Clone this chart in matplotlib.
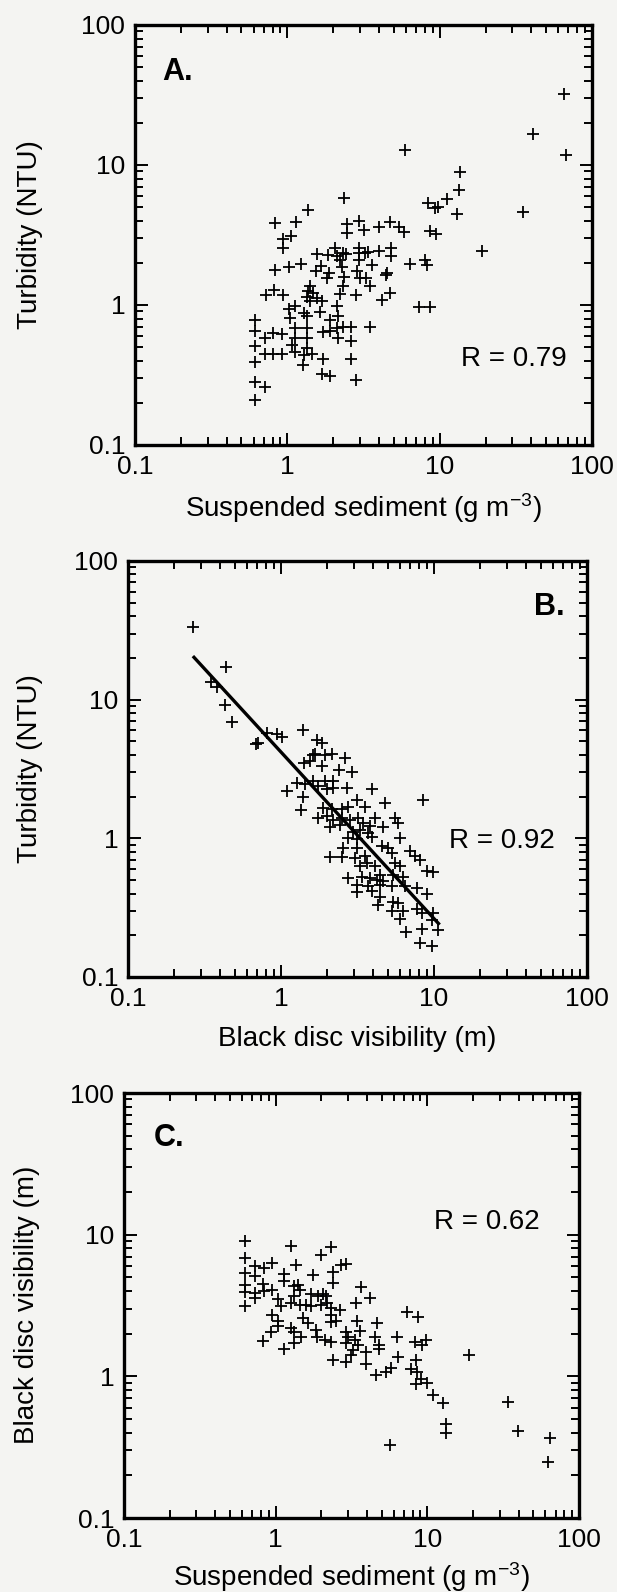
import numpy as np
import matplotlib
matplotlib.use('Agg')
import matplotlib.pyplot as plt
from matplotlib.ticker import LogLocator, FuncFormatter, NullFormatter

plt.rcParams['font.family'] = ['Liberation Sans', 'DejaVu Sans']
plt.rcParams['mathtext.default'] = 'regular'

# ---------------------------------------------------------------
# data
# ---------------------------------------------------------------
# A: suspended sediment (g m-3) vs turbidity (NTU)
sed_a = [2.37, 1.36, 0.83, 1.14, 1.05, 0.93, 0.93, 2.45, 2.45, 3.19, 2.97, 4.02,
         4.72, 5.41, 5.87, 8.43, 9.33, 8.6, 9.5,
         2.06, 2.33, 1.56, 1.86, 2.11, 2.22, 2.43, 2.97, 2.97, 3.24, 2.97, 3.4,
         4.02, 4.80, 4.80, 6.34, 8.02, 8.30, 0.83, 1.03, 1.23,
         1.54, 1.66, 1.89, 1.81, 2.28, 2.35, 2.88, 3.0, 3.29, 3.58, 4.49,
         2.33, 2.22, 2.84, 3.5, 4.69, 4.2, 7.3, 8.6, 0.72, 0.82, 0.93,
         1.41, 1.37, 1.34, 1.48, 1.56, 1.68, 1.41,
         1.03, 1.04, 1.12, 1.28, 1.34, 1.64, 2.11, 2.16, 1.9,
         0.61, 0.61, 0.61, 0.61, 0.61, 0.71, 0.61,
         0.71, 0.81, 0.92, 0.71, 0.81, 0.92,
         1.12, 1.34, 1.71, 1.9, 2.11, 2.33, 2.63, 3.5,
         1.12, 1.07, 1.34, 1.34, 2.14, 2.63, 1.12, 1.28, 1.45, 1.26,
         1.71, 2.63, 1.7, 1.9, 2.82,
         5.94, 13.6, 13.4, 11.1, 13.0, 35, 18.9, 65.8, 41, 67, 9.8, 4.44]
turb_a = [5.85, 4.75, 3.84, 3.92, 3.11, 2.98, 2.54, 3.77, 3.28, 3.41, 3.98, 3.62,
          3.94, 3.61, 3.32, 5.39, 4.96, 3.38, 3.23,
          2.57, 2.36, 2.30, 2.26, 2.23, 2.11, 2.32, 2.57, 2.36, 2.36, 2.11, 2.41,
          2.45, 2.57, 2.23, 1.95, 2.11, 1.92, 1.77, 1.86, 1.97,
          1.74, 1.89, 1.69, 1.56, 1.86, 1.58, 1.76, 1.56, 1.56, 1.92, 1.69,
          1.36, 1.19, 1.17, 1.36, 1.22, 1.08, 0.96, 0.96, 1.17, 1.29, 1.17,
          1.36, 1.25, 1.15, 1.22, 1.12, 1.06, 1.06,
          0.94, 0.81, 0.98, 0.87, 0.83, 0.89, 0.98, 0.84, 0.78,
          0.78, 0.65, 0.51, 0.39, 0.28, 0.26, 0.21,
          0.58, 0.63, 0.62, 0.45, 0.45, 0.45,
          0.68, 0.68, 0.64, 0.65, 0.68, 0.70, 0.70, 0.70,
          0.58, 0.52, 0.58, 0.49, 0.58, 0.55, 0.46, 0.44, 0.45, 0.37,
          0.41, 0.41, 0.32, 0.31, 0.29,
          12.8, 8.86, 6.62, 5.70, 4.50, 4.65, 2.43, 32.3, 16.7, 11.7, 5.0, 1.65]

# B: black disc visibility (m) vs turbidity (NTU)
vis_b = [0.267, 0.44, 0.35, 0.38, 0.43, 0.48, 0.69, 0.71, 0.94, 1.01, 0.81, 1.39,
         1.73, 1.85, 1.61, 1.94,
         1.67, 2.14, 2.62, 1.55, 1.41, 1.85, 2.40, 2.90,
         1.09, 1.27, 1.44, 1.63, 1.75, 1.94, 2.20, 1.99, 2.20, 2.69, 1.40, 1.36,
         3.92, 3.15, 4.78, 8.44, 3.54,
         1.89, 2.14, 2.49, 2.75, 1.99, 1.75, 2.20, 2.49, 2.82, 3.20, 4.11, 3.45,
         3.82, 4.67, 5.56, 5.85, 2.09, 2.43, 2.97, 3.28, 3.72, 2.75, 3.12, 3.92,
         6.0, 2.55, 3.12, 4.55, 5.03, 2.09, 2.49, 3.05, 3.54, 3.63, 3.28, 4.11,
         5.28, 5.56, 6.0, 6.97, 7.52, 8.1, 8.96, 9.9, 4.44, 5.42, 6.31, 2.75,
         3.37, 3.82, 4.22, 4.67, 3.12, 3.72, 4.44, 3.12, 3.92, 5.28, 6.46, 7.71,
         8.96, 4.44, 5.42, 5.85, 4.33, 5.28, 6.31, 7.71, 8.3, 9.9,
         6.6, 8.1, 9.7, 10.7, 8.3, 9.7, 6.0]
turb_b = [33.7, 17.2, 13.3, 12.4, 9.1, 6.9, 4.75, 4.89, 5.61, 5.40, 5.77, 6.0,
          5.1, 4.83, 4.02, 3.96,
          4.09, 4.09, 3.81, 3.6, 3.5, 3.31, 3.1, 3.0,
          2.18, 2.51, 2.48, 2.58, 2.37, 2.58, 2.58, 2.25, 2.31, 2.31, 1.99, 1.61,
          2.28, 1.90, 1.80, 1.88, 1.68,
          1.65, 1.63, 1.63, 1.68, 1.44, 1.40, 1.36, 1.40, 1.36, 1.40, 1.40, 1.29,
          1.22, 1.21, 1.40, 1.29, 1.21, 1.25, 1.12, 1.15, 1.09, 1.0, 0.99, 1.03,
          1.0, 0.85, 0.85, 0.875, 0.85, 0.73, 0.73, 0.72, 0.74, 0.66, 0.63, 0.63,
          0.78, 0.66, 0.63, 0.81, 0.75, 0.70, 0.58, 0.57, 0.54, 0.54, 0.53, 0.52,
          0.53, 0.52, 0.50, 0.49, 0.46, 0.45, 0.46, 0.41, 0.42, 0.45, 0.45, 0.44,
          0.40, 0.38, 0.35, 0.34, 0.33, 0.30, 0.30, 0.31, 0.29, 0.29,
          0.21, 0.176, 0.167, 0.217, 0.223, 0.257, 0.26]
fit_x = [0.27, 10.7]
fit_y = [20.2, 0.243]

# C: suspended sediment (g m-3) vs black disc visibility (m)
sed_c = [0.625, 0.625, 0.625, 0.625, 0.625, 0.625, 0.73, 0.84, 0.94,
         0.73, 0.83, 0.84, 0.94, 0.73, 0.73,
         1.26, 1.36, 1.13, 1.13, 1.40, 1.44, 1.32,
         1.98, 2.31, 1.76, 2.39, 2.39, 2.71, 2.92, 3.63, 3.40, 3.45,
         1.04, 1.09, 1.27, 1.44, 1.33, 1.59, 1.72, 1.90, 2.05, 2.16, 2.0, 2.33,
         2.64, 2.19, 1.70, 0.94, 1.04, 1.04, 1.27, 1.33, 1.51, 1.63, 1.85, 1.88,
         2.10, 2.33, 2.33, 2.31, 2.51, 2.92, 3.0, 3.32, 3.49, 2.92, 0.82, 0.93,
         1.32, 1.46, 1.13, 2.39, 2.92, 3.15, 3.24,
         4.20, 4.66, 3.96, 4.5, 4.80, 4.80, 3.58, 3.96, 4.61, 5.37, 5.79, 6.31,
         6.41, 7.35, 8.67, 8.24, 9.27, 9.85, 8.45, 7.85, 8.55, 8.45, 9.12, 9.95,
         10.9, 12.6, 13.2, 13.2, 18.8, 34.0, 39.6, 64.1, 62.5, 5.7]
vis_c = [8.96, 6.85, 5.36, 4.40, 3.94, 3.13, 5.97, 5.78, 6.31,
         5.13, 4.47, 4.0, 4.07, 3.89, 3.59,
         8.3, 6.1, 5.26, 4.72, 4.4, 4.07, 4.35,
         7.2, 8.25, 5.21, 5.47, 4.59, 6.1, 6.2, 4.3, 3.30, 2.44,
         3.49, 3.13, 3.30, 3.21, 3.69, 3.21, 3.79, 3.69, 3.79, 3.69, 3.21, 3.04,
         2.96, 3.30, 3.13, 2.73, 2.44, 2.28, 2.19, 2.07, 2.58, 2.38, 2.13, 1.91,
         1.81, 1.76, 2.40, 2.73, 2.44, 2.07, 1.91, 1.81, 1.66, 1.71, 1.79, 2.07,
         1.71, 1.91, 1.55, 1.30, 1.26, 1.41, 1.53,
         3.59, 2.39, 1.49, 1.88, 1.66, 1.55, 2.10, 1.23, 1.02, 1.07, 1.15, 1.88,
         1.37, 2.86, 2.64, 1.75, 1.66, 1.80, 1.31, 1.13, 1.07, 0.89, 0.95, 0.90,
         0.74, 0.65, 0.46, 0.40, 1.41, 0.66, 0.41, 0.37, 0.25, 0.33]

W, H = 617, 1592
fig = plt.figure(figsize=(W / 100, H / 100), dpi=100)
fig.patch.set_facecolor('#f4f4f2')


def px_axes(left, right, top, bottom):
    return fig.add_axes([left / W, 1 - bottom / H, (right - left) / W, (bottom - top) / H])


def style(ax):
    ax.set_xscale('log')
    ax.set_yscale('log')
    ax.set_xlim(0.1, 100)
    ax.set_ylim(0.1, 100)
    ax.set_facecolor('none')
    fmt = FuncFormatter(lambda v, p: f'{v:g}')
    for axis in (ax.xaxis, ax.yaxis):
        axis.set_major_locator(LogLocator(base=10, numticks=10))
        axis.set_minor_locator(LogLocator(base=10, subs=np.arange(2, 10), numticks=10))
        axis.set_major_formatter(fmt)
        axis.set_minor_formatter(NullFormatter())
    ax.tick_params(which='both', direction='in', top=True, right=True, width=1.4, color='black')
    ax.tick_params(which='major', length=9, labelsize=19)
    ax.tick_params(which='minor', length=5.5)
    ax.tick_params(axis='x', which='major', pad=7)
    ax.tick_params(axis='y', which='major', pad=7)
    for s in ax.spines.values():
        s.set_linewidth(2.4)


mk = dict(marker='+', linestyle='none', color='black', markersize=8.5, markeredgewidth=1.3)
tag = dict(fontsize=22, fontweight='bold', va='top')
rlab = dict(fontsize=20, ha='right', va='center')

# --- panel A
axA = px_axes(135, 592, 25, 445)
style(axA)
axA.plot(sed_a, turb_a, **mk)
axA.text(0.06, 0.925, 'A.', transform=axA.transAxes, ha='left', **tag)
axA.text(0.945, 0.205, 'R = 0.79', transform=axA.transAxes, **rlab)

# --- panel B
axB = px_axes(128, 587, 561, 977)
style(axB)
axB.plot(vis_b, turb_b, **mk)
axB.plot(fit_x, fit_y, color='black', linewidth=2.4)
axB.text(0.952, 0.925, 'B.', transform=axB.transAxes, ha='right', **tag)
axB.text(0.93, 0.328, 'R = 0.92', transform=axB.transAxes, **rlab)

# --- panel C
axC = px_axes(124, 579, 1093, 1518)
style(axC)
axC.plot(sed_c, vis_c, **mk)
axC.text(0.065, 0.93, 'C.', transform=axC.transAxes, ha='left', **tag)
axC.text(0.914, 0.696, 'R = 0.62', transform=axC.transAxes, **rlab)

# axis titles placed in pixel positions of the scan
lab = dict(fontsize=20, ha='center', va='center')
fig.text(30 / W, 1 - 235 / H, 'Turbidity (NTU)', rotation=90, **lab)
fig.text(363 / W, 1 - 508 / H, 'Suspended sediment (g m$^{-3}$)', **lab)
fig.text(30 / W, 1 - 769 / H, 'Turbidity (NTU)', rotation=90, **lab)
fig.text(357 / W, 1 - 1039 / H, 'Black disc visibility (m)', **lab)
fig.text(27 / W, 1 - 1305 / H, 'Black disc visibility (m)', rotation=90, **lab)
fig.text(351 / W, 1 - 1577 / H, 'Suspended sediment (g m$^{-3}$)', **lab)

fig.savefig('out.png', dpi=100, facecolor=fig.get_facecolor())
